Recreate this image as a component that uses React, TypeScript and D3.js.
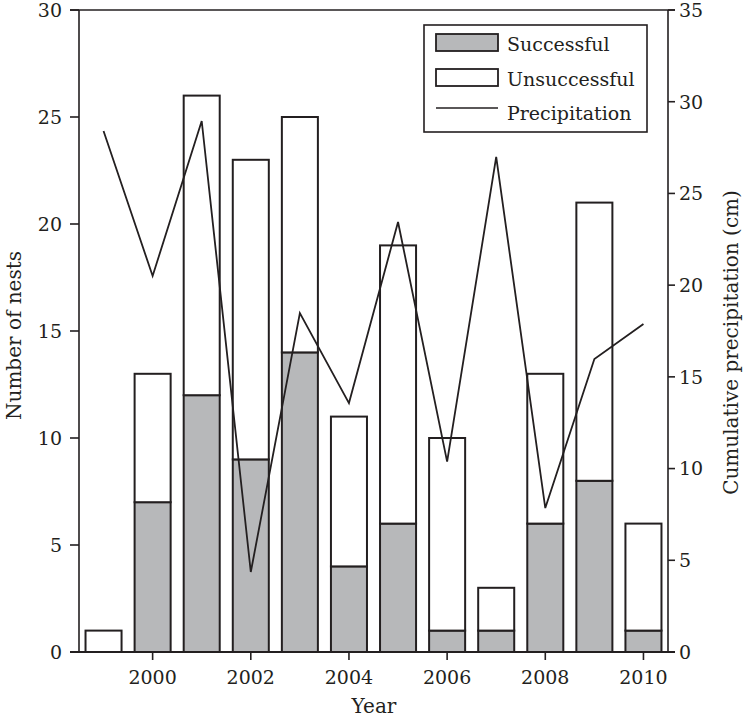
import React from "react";
import * as d3 from "d3";

const years = [1999, 2000, 2001, 2002, 2003, 2004, 2005, 2006, 2007, 2008, 2009, 2010];
const successful = [0, 7, 12, 9, 14, 4, 6, 1, 1, 6, 8, 1];
const unsuccessful = [1, 6, 14, 14, 11, 7, 13, 9, 2, 7, 13, 5];
const precipitation = [28.4, 20.5, 28.95, 4.36, 18.48, 13.57, 23.44, 10.38, 26.99, 7.85, 15.97, 17.88];
const leftTicks = [0, 5, 10, 15, 20, 25, 30];
const rightTicks = [0, 5, 10, 15, 20, 25, 30, 35];
const yearTicks = [2000, 2002, 2004, 2006, 2008, 2010];

const W = 747;
const H = 719;
const L = 79, R = 668, T = 10, B = 652;
const INK = "#231f20";
const GREY = "#b7b8ba";
const FONT = "'DejaVu Serif', 'Liberation Serif', serif";
const FS = 19;
const TFS = 20;

export default function App() {
  const x = d3.scaleBand<number>().domain(years).range([L, R]).paddingInner(0.266).paddingOuter(0.133);
  const yL = d3.scaleLinear().domain([0, 30]).range([B, T]);
  const yR = d3.scaleLinear().domain([0, 35]).range([B, T]);
  const bw = x.bandwidth();
  const line = d3
    .line<number>()
    .x((_, i) => (x(years[i]) as number) + bw / 2)
    .y((d) => yR(d));

  return (
    <svg width={W} height={H} style={{ position: "absolute", left: 0, top: 0, background: "#fff" }} fontFamily={FONT}>
      {/* bars */}
      {years.map((yr, i) => {
        const x0 = x(yr) as number;
        const s = successful[i];
        const tot = s + unsuccessful[i];
        return (
          <g key={yr}>
            {s > 0 && (
              <rect x={x0} y={yL(s)} width={bw} height={yL(0) - yL(s)} fill={GREY} stroke={INK} strokeWidth={2} />
            )}
            <rect x={x0} y={yL(tot)} width={bw} height={yL(s) - yL(tot)} fill="#fff" stroke={INK} strokeWidth={2} />
          </g>
        );
      })}
      {/* precipitation line */}
      <path d={line(precipitation) || ""} fill="none" stroke={INK} strokeWidth={1.8} strokeLinejoin="miter" />

      {/* frame */}
      <line x1={L - 9} x2={R + 7} y1={T} y2={T} stroke={INK} strokeWidth={1.6} />
      <line x1={L - 9} x2={R + 7} y1={B} y2={B} stroke={INK} strokeWidth={1.8} />
      <line x1={L} x2={L} y1={T} y2={B} stroke={INK} strokeWidth={1.6} />
      <line x1={R} x2={R} y1={T} y2={B} stroke={INK} strokeWidth={1.6} />

      {/* left axis */}
      {leftTicks.map((t) => (
        <g key={"l" + t}>
          <line x1={L - 9} x2={L} y1={yL(t)} y2={yL(t)} stroke={INK} strokeWidth={1.6} />
          <text x={62} y={yL(t)} dy="0.36em" textAnchor="end" fontSize={FS} fill={INK}>
            {t}
          </text>
        </g>
      ))}
      {/* right axis */}
      {rightTicks.map((t) => (
        <g key={"r" + t}>
          <line x1={R} x2={R + 7} y1={yR(t)} y2={yR(t)} stroke={INK} strokeWidth={1.6} />
          <text x={679} y={yR(t)} dy="0.36em" textAnchor="start" fontSize={FS} fill={INK}>
            {t}
          </text>
        </g>
      ))}
      {/* bottom axis */}
      {yearTicks.map((t) => {
        const cx = (x(t) as number) + bw / 2;
        return (
          <g key={"b" + t}>
            <line x1={cx} x2={cx} y1={B} y2={B + 8} stroke={INK} strokeWidth={1.6} />
            <text x={cx} y={684} textAnchor="middle" fontSize={FS} fill={INK}>
              {t}
            </text>
          </g>
        );
      })}

      {/* axis titles */}
      <text x={374} y={713} textAnchor="middle" fontSize={TFS} fill={INK}>
        Year
      </text>
      <text transform={`translate(21, 335.5) rotate(-90)`} textAnchor="middle" fontSize={TFS} fill={INK}>
        Number of nests
      </text>
      <text transform={`translate(738, 342.5) rotate(-90)`} textAnchor="middle" fontSize={TFS} fill={INK}>
        Cumulative precipitation (cm)
      </text>

      {/* legend */}
      <rect x={424} y={25} width={223} height={107} fill="#fff" stroke={INK} strokeWidth={1.6} />
      <rect x={436} y={34} width={62} height={17} fill={GREY} stroke={INK} strokeWidth={1.8} />
      <text x={507} y={51} fontSize={FS} fill={INK}>Successful</text>
      <rect x={436} y={69} width={62} height={17} fill="#fff" stroke={INK} strokeWidth={1.8} />
      <text x={507} y={86} fontSize={FS} fill={INK}>Unsuccessful</text>
      <line x1={436} x2={498} y1={108} y2={108} stroke={INK} strokeWidth={1.6} />
      <text x={507} y={120} fontSize={FS} fill={INK}>Precipitation</text>
    </svg>
  );
}
